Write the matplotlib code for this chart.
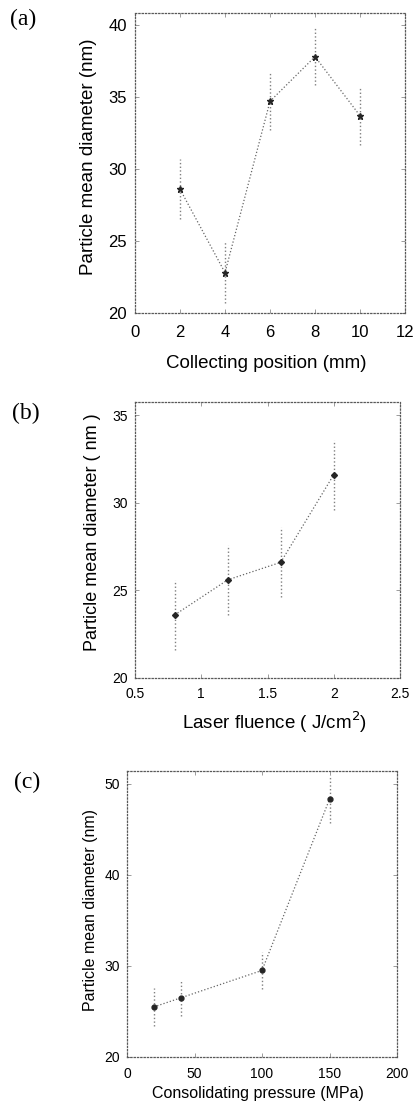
#!/usr/bin/env python3
# Particle mean diameter vs. collecting position / laser fluence / pressure

import matplotlib
matplotlib.use('Agg')
import matplotlib.pyplot as plt

plt.rcParams['font.family'] = ['Liberation Sans', 'DejaVu Sans']

# (a) collecting position
a_x = [2, 4, 6, 8, 10]
a_y = [28.6, 22.8, 34.7, 37.8, 33.7]
a_err = [2.1, 2.1, 2.0, 2.0, 2.0]

# (b) laser fluence
b_x = [0.8, 1.2, 1.6, 2.0]
b_y = [23.6, 25.6, 26.6, 31.6]
b_err = [2.0, 2.0, 2.0, 2.0]

# (c) consolidating pressure
c_x = [20, 40, 100, 150]
c_y = [25.5, 26.5, 29.5, 48.3]
c_err = [2.1, 2.0, 2.0, 2.6]

a_xticks = [0, 2, 4, 6, 8, 10, 12]
a_yticks = [20, 25, 30, 35, 40]
b_xticks = [0.5, 1, 1.5, 2, 2.5]
b_xlabels = ['0.5', '1', '1.5', '2', '2.5']
b_yticks = [20, 25, 30, 35]
c_xticks = [0, 50, 100, 150, 200]
c_yticks = [20, 30, 40, 50]

fig = plt.figure(figsize=(4.14, 11.04), dpi=100)


def style_axes(ax, tick_size, xpad, ypad):
    """Dotted scanned-looking frame"""
    for sp in ax.spines.values():
        sp.set_linestyle(':')
        sp.set_color('0.35')
        sp.set_linewidth(0.9)
    ax.tick_params(direction='in', length=3, width=0.6, color='0.55',
                   top=True, right=True, labelsize=tick_size)
    ax.tick_params(axis='x', pad=xpad)
    ax.tick_params(axis='y', pad=ypad)


def draw(ax, x, y, err, marker, ms):
    eb = ax.errorbar(x, y, yerr=err, fmt='none', ecolor='0.5',
                     elinewidth=1.0, capsize=0)
    for coll in eb[2]:
        coll.set_linestyle(':')
    ax.plot(x, y, linestyle=':', color='0.4', linewidth=0.9)
    ax.plot(x, y, linestyle='none', marker=marker, markersize=ms,
            color='0.15')


# ---- (a)
ax1 = fig.add_axes([0.3261, 0.7165, 0.6522, 0.2713])
draw(ax1, a_x, a_y, a_err, '*', 5)
ax1.set_xlim(0, 12)
ax1.set_ylim(20, 40.8)
ax1.set_xticks(a_xticks)
ax1.set_yticks(a_yticks)
style_axes(ax1, 12, 9, 6)
ax1.set_xlabel('Collecting position (mm)', fontsize=13.5, va='center')
ax1.set_ylabel('Particle mean diameter (nm)', fontsize=13.5, va='center')
ax1.xaxis.set_label_coords(0.485, -0.167)
ax1.yaxis.set_label_coords(-0.174, 0.521)

# ---- (b)
ax2 = fig.add_axes([0.3261, 0.3859, 0.6401, 0.25])
draw(ax2, b_x, b_y, b_err, 'D', 3)
ax2.set_xlim(0.5, 2.5)
ax2.set_ylim(20, 35.75)
ax2.set_xticks(b_xticks)
ax2.set_xticklabels(b_xlabels)
ax2.set_yticks(b_yticks)
style_axes(ax2, 10, 6.5, 5)
ax2.set_xlabel('Laser fluence ( J/cm$^2$)', fontsize=13.5, va='center')
ax2.set_ylabel('Particle mean diameter ( nm )', fontsize=13, va='center')
ax2.xaxis.set_label_coords(0.528, -0.159)
ax2.yaxis.set_label_coords(-0.162, 0.529)

# ---- (c)
ax3 = fig.add_axes([0.3068, 0.0426, 0.6522, 0.2591])
draw(ax3, c_x, c_y, c_err, 'o', 3.5)
ax3.set_xlim(0, 200)
ax3.set_ylim(20, 51.4)
ax3.set_xticks(c_xticks)
ax3.set_yticks(c_yticks)
style_axes(ax3, 10, 7, 5)
ax3.set_xlabel('Consolidating pressure (MPa)', fontsize=11.5, va='center')
ax3.set_ylabel('Particle mean diameter (nm)', fontsize=11.5, va='center')
ax3.xaxis.set_label_coords(0.485, -0.126)
ax3.yaxis.set_label_coords(-0.137, 0.514)

# panel letters
for label, px, py in [('(a)', 23, 19), ('(b)', 26, 413), ('(c)', 27, 782)]:
    fig.text(px / 414, 1 - py / 1104, label, fontsize=17,
             family='Liberation Serif', ha='center', va='center')

fig.savefig('out.png', dpi=100)
plt.close(fig)
